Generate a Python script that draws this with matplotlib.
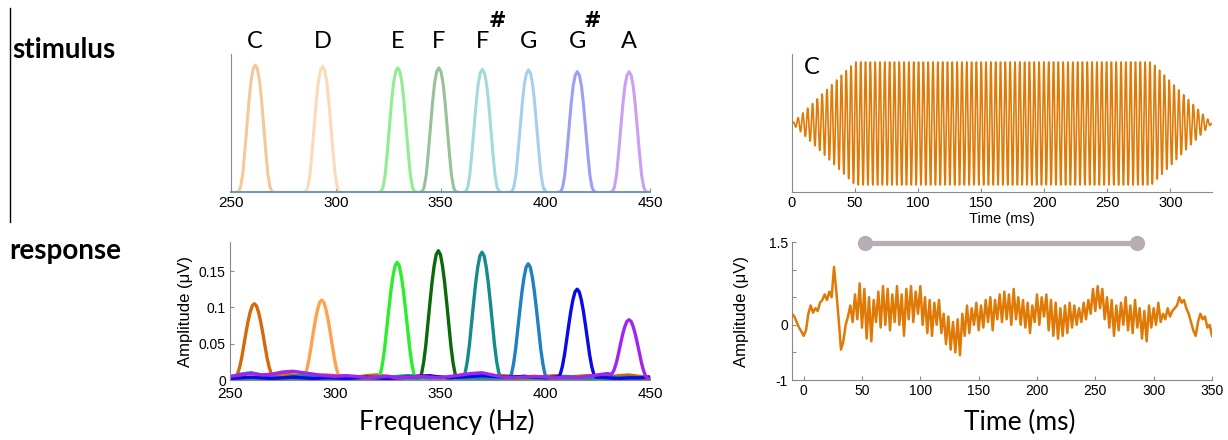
import numpy as np
import matplotlib.pyplot as plt
from matplotlib import transforms

# ---- data ----
notes = ['C', 'D', 'E', 'F', 'F', 'G', 'G', 'A']
sharp = [False, False, False, False, True, False, True, False]
note_freqs = [261.6, 293.7, 329.6, 349.2, 370.0, 392.0, 415.3, 440.0]

stim_heights = [0.92, 0.91, 0.90, 0.90, 0.89, 0.885, 0.872, 0.872]
stim_colors = ['#f6c28a', '#fbd6b2', '#86ea86', '#8cbc8c', '#9ad6d6', '#9ccbe8', '#9494f4', '#c496f2']

resp_heights = [0.105, 0.110, 0.162, 0.178, 0.176, 0.160, 0.125, 0.083]
resp_colors = ['#d46a0a', '#ffa24e', '#2cee2c', '#0a6a0a', '#148c8c', '#2280c0', '#0a0ae8', '#a224f0']

# peak shape (fraction of peak height) at 1 Hz offsets -9..9 from the note frequency
peak_offsets = [-9, -8, -7, -6, -5, -4, -3, -2, -1, 0, 1, 2, 3, 4, 5, 6, 7, 8, 9]
resp_profile = [0.0, 0.03, 0.12, 0.25, 0.42, 0.59, 0.75, 0.88, 0.97, 1.0,
                0.97, 0.88, 0.75, 0.59, 0.42, 0.25, 0.12, 0.03, 0.0]
stim_profile = [0.0, 0.0, 0.04, 0.14, 0.32, 0.52, 0.72, 0.88, 0.97, 1.0,
                0.97, 0.88, 0.72, 0.52, 0.32, 0.14, 0.04, 0.0, 0.0]

# noise floor of the response spectra, every 5 Hz from 250 to 450
noise_freqs = list(range(250, 455, 5))
noise_C = [0.004, 0.006, 0.009, 0.007, 0.006, 0.008, 0.007, 0.006, 0.005, 0.007, 0.006, 0.005, 0.004, 0.006,
           0.007, 0.005, 0.004, 0.005, 0.006, 0.005, 0.004, 0.003, 0.005, 0.006, 0.004, 0.005, 0.006, 0.005,
           0.004, 0.003, 0.005, 0.006, 0.004, 0.005, 0.006, 0.005, 0.004, 0.006, 0.007, 0.005, 0.004]
noise_Fs = [0.003, 0.008, 0.010, 0.007, 0.004, 0.003, 0.005, 0.006, 0.004, 0.003, 0.004, 0.005, 0.004, 0.003,
            0.004, 0.003, 0.005, 0.006, 0.004, 0.003, 0.004, 0.003, 0.004, 0.006, 0.008, 0.005, 0.004, 0.003,
            0.005, 0.004, 0.003, 0.004, 0.005, 0.004, 0.003, 0.004, 0.005, 0.003, 0.004, 0.003, 0.004]
noise_Gs = [0.002, 0.003, 0.004, 0.003, 0.002, 0.003, 0.004, 0.003, 0.002, 0.003, 0.003, 0.002, 0.003, 0.004,
            0.003, 0.002, 0.003, 0.004, 0.005, 0.006, 0.004, 0.003, 0.004, 0.005, 0.006, 0.005, 0.004, 0.004,
            0.005, 0.004, 0.003, 0.004, 0.005, 0.003, 0.003, 0.004, 0.003, 0.002, 0.003, 0.003, 0.004]
noise_A = [0.005, 0.007, 0.009, 0.007, 0.008, 0.011, 0.012, 0.010, 0.008, 0.006, 0.005, 0.006, 0.005, 0.003,
           0.004, 0.005, 0.003, 0.004, 0.005, 0.004, 0.003, 0.005, 0.007, 0.009, 0.010, 0.007, 0.004, 0.003,
           0.004, 0.005, 0.004, 0.003, 0.004, 0.003, 0.005, 0.007, 0.009, 0.003, 0.004, 0.003, 0.002]
noise_other = [0.003] * len(noise_freqs)
resp_noise = [noise_C, noise_other, noise_other, noise_other, noise_Fs, noise_other, noise_Gs, noise_A]

# stimulus waveform: C tone with linear on/off ramps
tone_freq = 261.63  # Hz
env_times = [0, 50, 285, 333]  # ms
env_amps = [0, 1, 1, 0]

# averaged response to C, every 2 ms from -10 to 350 ms
resp_t = list(range(-10, 352, 2))
resp_uv = [0.20, 0.15, 0.05, -0.05, -0.12,
           -0.20, -0.10, 0.20, 0.35, 0.22,
           0.30, 0.25, 0.40, 0.45, 0.55,
           0.45, 0.60, 0.50, 1.05, 0.60,
           0.10, -0.45, -0.30, 0.00, 0.15,
           0.35, 0.05, 0.55, 0.10, 0.75,
           -0.05, 0.65, -0.25, 0.50, -0.30,
           0.45, 0.05, 0.60, -0.05, 0.70,
           0.00, 0.65, -0.10, 0.55, 0.05,
           0.70, 0.00, 0.55, -0.20, 0.65,
           0.10, 0.70, 0.05, 0.60, 0.20,
           0.70, 0.00, 0.50, -0.15, 0.45,
           -0.20, 0.40, 0.00, 0.45, -0.15,
           0.20, -0.35, 0.15, -0.45, 0.05,
           -0.50, 0.10, -0.55, 0.20, -0.20,
           0.35, -0.15, 0.30, 0.00, 0.40,
           -0.10, 0.35, -0.05, 0.45, 0.05,
           0.50, -0.10, 0.45, 0.10, 0.55,
           0.05, 0.60, 0.10, 0.55, 0.00,
           0.65, 0.10, 0.50, 0.00, 0.45,
           -0.05, 0.40, -0.15, 0.35, 0.05,
           0.55, 0.00, 0.50, 0.15, 0.55,
           -0.10, 0.45, -0.20, 0.40, -0.25,
           0.30, -0.20, 0.35, -0.15, 0.40,
           -0.05, 0.35, 0.00, 0.30, 0.05,
           0.40, 0.10, 0.45, 0.20, 0.65,
           0.25, 0.70, 0.30, 0.65, 0.10,
           0.50, -0.05, 0.45, -0.20, 0.35,
           -0.10, 0.40, 0.00, 0.50, -0.10,
           0.35, -0.15, 0.45, -0.05, 0.30,
           -0.25, 0.25, -0.30, 0.35, -0.05,
           0.30, 0.00, 0.40, 0.05, 0.20,
           0.10, 0.30, 0.15, 0.25, 0.30,
           0.35, 0.50, 0.40, 0.45, 0.30,
           0.20, 0.05, -0.10, -0.20, 0.05,
           0.20, 0.10, 0.15, -0.05, 0.00,
           -0.20]
stim_window = [53, 286]  # ms, grey bar

wave_color = '#e07a06'
spine_color = '#8a8a8a'
tick_font = 'Liberation Sans'
big_font = 'Lato'

W, H = 1228, 440
fig = plt.figure(figsize=(W / 100, H / 100), dpi=100)


def px_axes(left, top, right, bottom):
    return fig.add_axes([left / W, 1 - bottom / H, (right - left) / W, (bottom - top) / H])


def style(ax, fs):
    for s in ['top', 'right']:
        ax.spines[s].set_visible(False)
    for s in ['left', 'bottom']:
        ax.spines[s].set_color(spine_color)
    ax.tick_params(direction='in', length=3, color=spine_color, labelsize=fs, pad=3)
    for lab in ax.get_xticklabels() + ax.get_yticklabels():
        lab.set_family(tick_font)


# ---- stimulus spectrum ----
ax1 = px_axes(231, 54, 650, 192)
off = np.array(peak_offsets, dtype=float)
sprof = np.array(stim_profile)
rprof = np.array(resp_profile)
for i in range(len(notes)):
    ax1.plot(note_freqs[i] + off, stim_heights[i] * sprof, color=stim_colors[i], lw=2.2, alpha=0.9,
             solid_capstyle='round')
ax1.set_xlim(250, 450)
ax1.set_ylim(0, 1)
ax1.set_xticks([250, 300, 350, 400, 450])
ax1.set_yticks([])
style(ax1, 11)
ax1.spines['bottom'].set_color('#6c98b4')
ax1.spines['bottom'].set_linewidth(1.4)

lab_tr = transforms.blended_transform_factory(ax1.transData, ax1.transAxes)
for i in range(len(notes)):
    ax1.text(note_freqs[i], 1.087, notes[i], transform=lab_tr, ha='center', va='center',
             fontsize=17, family=big_font, color='black')
    if sharp[i]:
        ax1.text(note_freqs[i] + 7.0, 1.24, '#', transform=lab_tr, ha='center', va='center',
                 fontsize=15, fontweight='bold', family='DejaVu Sans', color='black')

# ---- response spectrum ----
ax2 = px_axes(230, 242, 650, 380)
nf = np.array(noise_freqs, dtype=float)
for i in range(len(notes)):
    c = note_freqs[i]
    base = np.array(resp_noise[i])
    keep = np.abs(nf - c) > 9
    pk_x = c + off
    pk_base = np.interp(pk_x, nf, base)
    pk_y = pk_base + (resp_heights[i] - pk_base) * rprof
    x = np.concatenate([nf[keep], pk_x])
    y = np.concatenate([base[keep], pk_y])
    order = np.argsort(x)
    ax2.plot(x[order], y[order], color=resp_colors[i], lw=2.4, solid_joinstyle='round')
ax2.set_xlim(250, 450)
ax2.set_ylim(0, 0.19)
ax2.set_xticks([250, 300, 350, 400, 450])
ax2.set_yticks([0, 0.05, 0.1, 0.15])
ax2.set_yticklabels(['0', '0.05', '0.1', '0.15'])
style(ax2, 11)
ax2.tick_params(axis='x', pad=5)
ax2.tick_params(axis='y', labelsize=10)
ax2.set_ylabel('Amplitude (μV)', family=tick_font, fontsize=12, labelpad=4)

# ---- stimulus waveform ----
ax3 = px_axes(792, 54, 1212, 192)
t = np.arange(0, env_times[-1], 0.05)
env = np.interp(t, env_times, env_amps)
ax3.plot(t, env * np.sin(2 * np.pi * tone_freq * t / 1000.0), color=wave_color, lw=1.2)
ax3.set_xlim(0, 333)
ax3.set_ylim(-1.114, 1.13)
ax3.set_xticks([0, 50, 100, 150, 200, 250, 300])
ax3.set_yticks([])
style(ax3, 10.5)
ax3.set_xlabel('Time (ms)', family=tick_font, fontsize=10.5, labelpad=1)
ax3.text(15.8, 0.9, 'C', transform=transforms.blended_transform_factory(ax3.transData, ax3.transAxes),
         ha='center', va='center', fontsize=17, family=big_font)

# ---- response waveform ----
ax4 = px_axes(792, 242, 1212, 380)
ax4.plot(resp_t, resp_uv, color=wave_color, lw=1.8)
ax4.plot(stim_window, [1.485, 1.485], color='#b9adb5', lw=3.8, marker='o', markersize=10,
         solid_capstyle='butt', clip_on=False, zorder=5)
ax4.set_xlim(-10, 350)
ax4.set_ylim(-1, 1.5)
ax4.set_xticks([0, 50, 100, 150, 200, 250, 300, 350])
ax4.set_yticks([-1, -0.5, 0, 0.5, 1, 1.5])
ax4.set_yticklabels(['-1', '', '0', '', '', '1.5'])
style(ax4, 10)
ax4.set_ylabel('Amplitude (μV)', family=tick_font, fontsize=12, labelpad=14)

# ---- figure labels ----
fig.text(12 / W, 1 - 50 / H, 'stimulus', fontsize=20, fontweight='bold', family=big_font, va='center')
fig.text(9 / W, 1 - 251 / H, 'response', fontsize=20, fontweight='bold', family=big_font, va='center')
fig.add_artist(plt.Line2D([10 / W, 10 / W], [1 - 8 / H, 1 - 222 / H], color='black', lw=1))
fig.text(447 / W, 1 - 422 / H, 'Frequency (Hz)', fontsize=19, family=big_font, ha='center', va='center')
fig.text(1020 / W, 1 - 422 / H, 'Time (ms)', fontsize=19, family=big_font, ha='center', va='center')

fig.savefig('out.png', dpi=100)
